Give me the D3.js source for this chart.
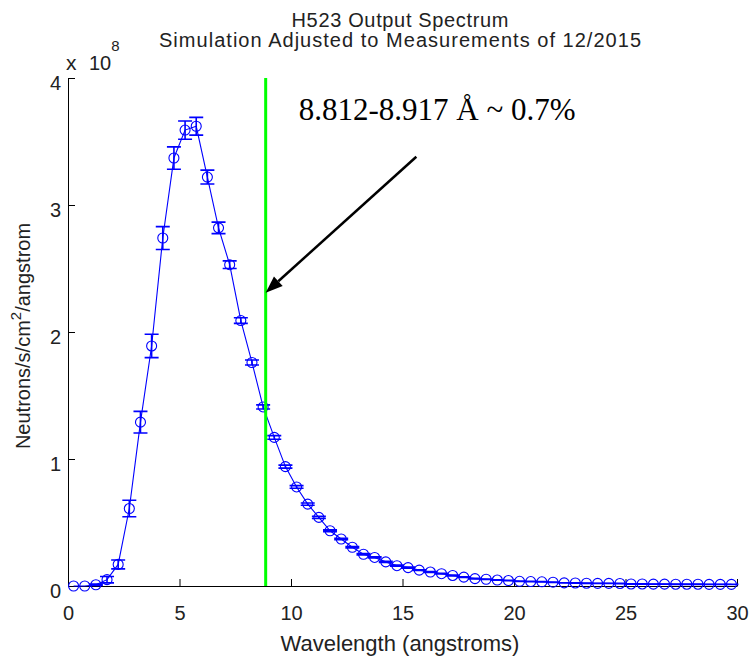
<!DOCTYPE html>
<html>
<head>
<meta charset="utf-8">
<script src="https://cdn.jsdelivr.net/npm/d3@7"></script>
<style>
  body { margin: 0; background: #fff; }
  svg { display: block; }
</style>
</head>
<body>
<svg id="chart"></svg>
<script>
// data (flux in units of 1e8 neutrons/s/cm^2/angstrom)
var wavelengths = [0.25, 0.75, 1.25, 1.75, 2.25, 2.75, 3.25, 3.75, 4.25, 4.75,
  5.25, 5.75, 6.25, 6.75, 7.25, 7.75, 8.25, 8.75, 9.25, 9.75,
  10.25, 10.75, 11.25, 11.75, 12.25, 12.75, 13.25, 13.75, 14.25, 14.75,
  15.25, 15.75, 16.25, 16.75, 17.25, 17.75, 18.25, 18.75, 19.25, 19.75,
  20.25, 20.75, 21.25, 21.75, 22.25, 22.75, 23.25, 23.75, 24.25, 24.75,
  25.25, 25.75, 26.25, 26.75, 27.25, 27.75, 28.25, 28.75, 29.25, 29.75];

var flux = [0.00, 0.00, 0.01, 0.05, 0.17, 0.61, 1.29, 1.89, 2.74, 3.37,
  3.59, 3.62, 3.22, 2.82, 2.53, 2.09, 1.76, 1.41, 1.17, 0.94,
  0.78, 0.645, 0.54, 0.435, 0.37, 0.305, 0.25, 0.225, 0.19, 0.16,
  0.145, 0.125, 0.11, 0.097, 0.083, 0.07, 0.058, 0.053, 0.047, 0.043,
  0.037, 0.035, 0.033, 0.03, 0.025, 0.024, 0.022, 0.021, 0.021, 0.02,
  0.016, 0.016, 0.015, 0.015, 0.014, 0.014, 0.014, 0.013, 0.013, 0.013];

var fluxErr = [0, 0, 0.005, 0.025, 0.035, 0.065, 0.085, 0.092, 0.09, 0.088,
  0.072, 0.07, 0.055, 0.045, 0.03, 0.022, 0.02, 0.016, 0.014, 0.012,
  0.01, 0.009, 0.008, 0.007, 0.006, 0.006, 0.005, 0.005, 0.004, 0.004,
  0.004, 0.003, 0.003, 0.003, 0.003, 0.002, 0.002, 0.002, 0.002, 0.002,
  0.002, 0.002, 0.002, 0.002, 0.001, 0.001, 0.001, 0.001, 0.001, 0.001,
  0.001, 0.001, 0.001, 0.001, 0.001, 0.001, 0.001, 0.001, 0.001, 0.001];

var xTicks = [0, 5, 10, 15, 20, 25, 30];
var yTicks = [0, 1, 2, 3, 4];

// selected wavelength band and the annotation
var bandLow = 8.812;
var bandHigh = 8.917;
var bandLabel = "8.812-8.917 \u00C5 ~ 0.7%";
var arrowFrom = [15.62, 3.38];
var arrowTo = [8.865, 2.31];
var labelAt = [10.35, 3.67];

var titleLines = ["H523 Output Spectrum", "Simulation Adjusted to Measurements of 12/2015"];
var titleWidths = [217, 482];

// parameters
var width = 753;
var height = 657;
var font = "'Liberation Sans', Arial, sans-serif";
var blue = "#0000ff";

var svg = d3.select("#chart").attr("width", width).attr("height", height);

var x = d3.scaleLinear().domain([0, 30]).range([68, 737]);
var y = d3.scaleLinear().domain([0, 4]).range([586, 78]);

// axes, MATLAB style: ticks pointing inward, no box
var xAxis = svg.append("g")
  .attr("transform", "translate(0," + y(0) + ")")
  .call(d3.axisBottom(x).tickValues(xTicks).tickFormat(d3.format("d"))
    .tickSizeInner(-7).tickSizeOuter(0).tickPadding(20));

var yAxis = svg.append("g")
  .attr("transform", "translate(" + x(0) + ",0)")
  .call(d3.axisLeft(y).tickValues(yTicks).tickFormat(d3.format("d"))
    .tickSizeInner(-7).tickSizeOuter(0).tickPadding(7));

svg.selectAll(".domain, .tick line").attr("stroke", "#000").attr("stroke-width", 1);
svg.selectAll(".tick text")
  .attr("fill", "#222")
  .style("font-family", font)
  .style("font-size", "20px");
yAxis.selectAll(".tick text").attr("dy", "0.55em");

// exponent label
var expo = svg.append("text")
  .attr("y", 70)
  .attr("fill", "#222")
  .style("font-family", font)
  .style("font-size", "20px");
expo.append("tspan").attr("x", 66).style("font-size", "21px").text("x");
expo.append("tspan").attr("x", 89).text("10");
expo.append("tspan").attr("dy", -19).style("font-size", "15px").text("8");

// titles
titleLines.forEach(function (t, i) {
  svg.append("text")
    .attr("x", 400)
    .attr("y", 27 + i * 20)
    .attr("text-anchor", "middle")
    .attr("textLength", titleWidths[i])
    .attr("lengthAdjust", "spacing")
    .attr("fill", "#222")
    .style("font-family", font)
    .style("font-size", "20px")
    .text(t);
});

// axis labels
svg.append("text")
  .attr("x", 400)
  .attr("y", 651)
  .attr("text-anchor", "middle")
  .attr("fill", "#222")
  .style("font-family", font)
  .style("font-size", "22px")
  .text("Wavelength (angstroms)");

var yl = svg.append("text")
  .attr("transform", "translate(30,336) rotate(-90)")
  .attr("text-anchor", "middle")
  .attr("fill", "#222")
  .style("font-family", font)
  .style("font-size", "20px");
yl.append("tspan").text("Neutrons/s/cm");
yl.append("tspan").attr("dy", -9).style("font-size", "15px").text("2");
yl.append("tspan").attr("dy", 9).text("/angstrom");

// data line
var pts = wavelengths.map(function (w, i) { return [x(w), y(flux[i])]; });
svg.append("path")
  .attr("d", d3.line()(pts))
  .attr("stroke", blue)
  .attr("stroke-width", 1.1)
  .attr("fill", "none");

// error bars
var cap = 7;
for (var i = 0; i < wavelengths.length; i += 1) {
  if (fluxErr[i] <= 0) continue;
  var cx = x(wavelengths[i]);
  var yHi = y(flux[i] + fluxErr[i]);
  var yLo = y(flux[i] - fluxErr[i]);
  var eb = svg.append("path");
  eb.attr("d", d3.line()([[cx, yHi], [cx, yLo]]) +
      d3.line()([[cx - cap, yHi], [cx + cap, yHi]]) +
      d3.line()([[cx - cap, yLo], [cx + cap, yLo]]));
  eb.attr("stroke", blue);
  eb.attr("stroke-width", 1.6);
  eb.attr("fill", "none");
}

// circle markers
for (var i = 0; i < wavelengths.length; i += 1) {
  var circle = svg.append("circle");
  circle.attr("cx", x(wavelengths[i]));
  circle.attr("cy", y(flux[i]));
  circle.attr("r", 5);
  circle.attr("fill", "none");
  circle.attr("stroke", blue);
  circle.attr("stroke-width", 1.1);
}

// selected band line
var bandX = x((bandLow + bandHigh) / 2);
svg.append("path")
  .attr("d", d3.line()([[bandX, y(4)], [bandX, y(0)]]))
  .attr("stroke", "#00ff00")
  .attr("stroke-width", 3)
  .attr("fill", "none");

// arrow
var ax0 = x(arrowFrom[0]), ay0 = y(arrowFrom[1]);
var ax1 = x(arrowTo[0]), ay1 = y(arrowTo[1]);
var ang = Math.atan2(ay1 - ay0, ax1 - ax0);
var headLen = 17, headW = 6.5;
var bx = ax1 - headLen * Math.cos(ang), by = ay1 - headLen * Math.sin(ang);
svg.append("path")
  .attr("d", d3.line()([[ax0, ay0], [bx, by]]))
  .attr("stroke", "#000")
  .attr("stroke-width", 2.5)
  .attr("fill", "none");
svg.append("path")
  .attr("d", d3.line()([
    [ax1, ay1],
    [bx + headW * Math.sin(ang), by - headW * Math.cos(ang)],
    [bx - headW * Math.sin(ang), by + headW * Math.cos(ang)]
  ]) + "Z")
  .attr("fill", "#000");

svg.append("text")
  .attr("x", x(labelAt[0]))
  .attr("y", y(labelAt[1]))
  .style("font-family", "'Liberation Serif', 'Times New Roman', serif")
  .style("font-size", "31px")
  .text(bandLabel);
</script>
</body>
</html>
